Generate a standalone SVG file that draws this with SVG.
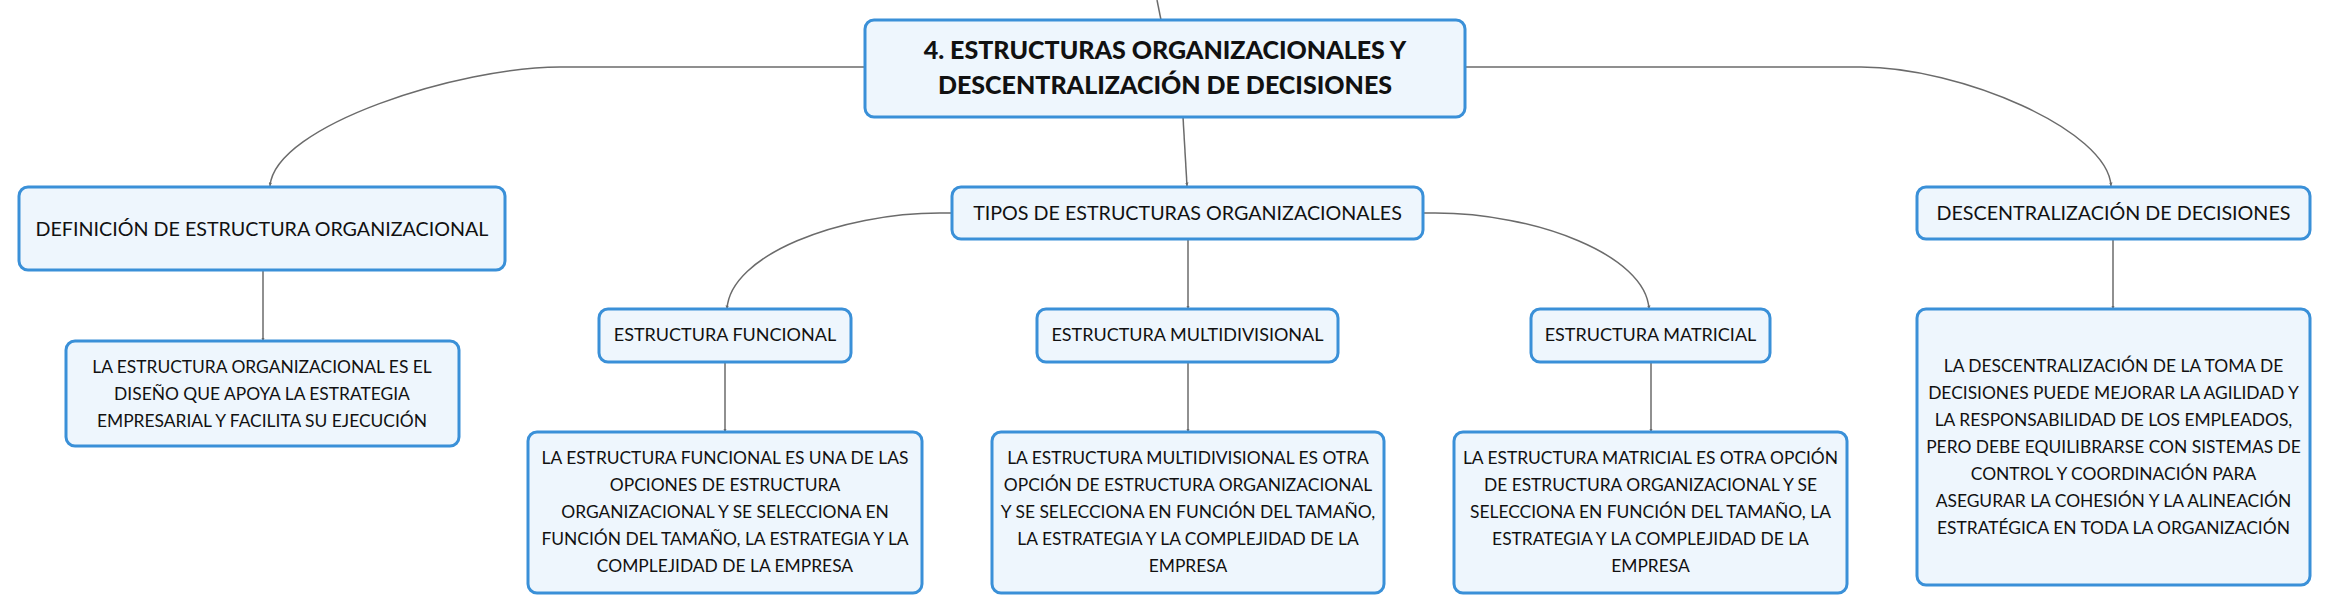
<svg xmlns="http://www.w3.org/2000/svg" width="2330" height="615" viewBox="0 0 2330 615">
<defs>
<style>
.box{fill:#EEF6FD;stroke:#3A90D8;stroke-width:3}
.con{fill:none;stroke:#6b6b6b;stroke-width:1.5}
.t{font-family:Lato,"Open Sans","Noto Sans",sans-serif;fill:#111;text-anchor:middle}
.title{font-size:25px;font-weight:900}
.h1{font-size:19.7px}
.h2{font-size:18px}
.b{font-size:17.4px}
</style>
<marker id="arr" viewBox="0 0 6 6" refX="6" refY="3" markerWidth="3.5" markerHeight="3.5" markerUnits="userSpaceOnUse" orient="auto">
<path d="M0,0 L6,3 L0,6 z" fill="#6b6b6b"/>
</marker>
</defs>
<rect width="2330" height="615" fill="#ffffff"/>

<g id="connectors">
<path class="con" d="M1161 20 L1157 0"/>
<path class="con" d="M865 67 L560 67 C460 67 275 125 270 186" marker-end="url(#arr)"/>
<path class="con" d="M1465 67 L1861 67 C1960 67 2108 130 2111 186" marker-end="url(#arr)"/>
<path class="con" d="M1183 117 L1187 186" marker-end="url(#arr)"/>
<path class="con" d="M952 213 L940 213 C840 213 730 255 727 309" marker-end="url(#arr)"/>
<path class="con" d="M1188 239 L1188 309" marker-end="url(#arr)"/>
<path class="con" d="M1423 213 L1435 213 C1535 213 1646 255 1649 309" marker-end="url(#arr)"/>
<path class="con" d="M263 270 L263 341" marker-end="url(#arr)"/>
<path class="con" d="M2113 239 L2113 309" marker-end="url(#arr)"/>
<path class="con" d="M725 362 L725 432" marker-end="url(#arr)"/>
<path class="con" d="M1188 362 L1188 432" marker-end="url(#arr)"/>
<path class="con" d="M1651 362 L1651 432" marker-end="url(#arr)"/>
</g>

<g id="root">
<rect class="box" x="865" y="20" width="600" height="97" rx="9"/>
<text class="t title" x="1165" y="59">4. ESTRUCTURAS ORGANIZACIONALES Y</text>
<text class="t title" x="1165" y="94">DESCENTRALIZACIÓN DE DECISIONES</text>
</g>

<g id="definicion">
<rect class="box" x="19" y="187" width="486" height="83" rx="9"/>
<text class="t h1" x="262" y="236">DEFINICIÓN DE ESTRUCTURA ORGANIZACIONAL</text>
</g>

<g id="definicion-texto">
<rect class="box" x="66" y="341" width="393" height="105" rx="9"/>
<text class="t b" x="262" y="373">LA ESTRUCTURA ORGANIZACIONAL ES EL</text>
<text class="t b" x="262" y="400">DISEÑO QUE APOYA LA ESTRATEGIA</text>
<text class="t b" x="262" y="427">EMPRESARIAL Y FACILITA SU EJECUCIÓN</text>
</g>

<g id="tipos">
<rect class="box" x="952" y="187" width="471" height="52" rx="9"/>
<text class="t h1" x="1187.5" y="220">TIPOS DE ESTRUCTURAS ORGANIZACIONALES</text>
</g>

<g id="descentralizacion">
<rect class="box" x="1917" y="187" width="393" height="52" rx="9"/>
<text class="t h1" x="2113.5" y="220">DESCENTRALIZACIÓN DE DECISIONES</text>
</g>

<g id="descentralizacion-texto">
<rect class="box" x="1917" y="309" width="393" height="276" rx="9"/>
<text class="t b" x="2113.5" y="372">LA DESCENTRALIZACIÓN DE LA TOMA DE</text>
<text class="t b" x="2113.5" y="399">DECISIONES PUEDE MEJORAR LA AGILIDAD Y</text>
<text class="t b" x="2113.5" y="426">LA RESPONSABILIDAD DE LOS EMPLEADOS,</text>
<text class="t b" x="2113.5" y="453">PERO DEBE EQUILIBRARSE CON SISTEMAS DE</text>
<text class="t b" x="2113.5" y="480">CONTROL Y COORDINACIÓN PARA</text>
<text class="t b" x="2113.5" y="507">ASEGURAR LA COHESIÓN Y LA ALINEACIÓN</text>
<text class="t b" x="2113.5" y="534">ESTRATÉGICA EN TODA LA ORGANIZACIÓN</text>
</g>

<g id="funcional">
<rect class="box" x="599" y="309" width="252" height="53" rx="9"/>
<text class="t h2" x="725" y="341">ESTRUCTURA FUNCIONAL</text>
</g>

<g id="funcional-texto">
<rect class="box" x="528" y="432" width="394" height="161" rx="9"/>
<text class="t b" x="725" y="464">LA ESTRUCTURA FUNCIONAL ES UNA DE LAS</text>
<text class="t b" x="725" y="491">OPCIONES DE ESTRUCTURA</text>
<text class="t b" x="725" y="518">ORGANIZACIONAL Y SE SELECCIONA EN</text>
<text class="t b" x="725" y="545">FUNCIÓN DEL TAMAÑO, LA ESTRATEGIA Y LA</text>
<text class="t b" x="725" y="572">COMPLEJIDAD DE LA EMPRESA</text>
</g>

<g id="multidivisional">
<rect class="box" x="1037" y="309" width="301" height="53" rx="9"/>
<text class="t h2" x="1187.5" y="341">ESTRUCTURA MULTIDIVISIONAL</text>
</g>

<g id="multidivisional-texto">
<rect class="box" x="992" y="432" width="392" height="161" rx="9"/>
<text class="t b" x="1188" y="464">LA ESTRUCTURA MULTIDIVISIONAL ES OTRA</text>
<text class="t b" x="1188" y="491">OPCIÓN DE ESTRUCTURA ORGANIZACIONAL</text>
<text class="t b" x="1188" y="518">Y SE SELECCIONA EN FUNCIÓN DEL TAMAÑO,</text>
<text class="t b" x="1188" y="545">LA ESTRATEGIA Y LA COMPLEJIDAD DE LA</text>
<text class="t b" x="1188" y="572">EMPRESA</text>
</g>

<g id="matricial">
<rect class="box" x="1531" y="309" width="239" height="53" rx="9"/>
<text class="t h2" x="1650.5" y="341">ESTRUCTURA MATRICIAL</text>
</g>

<g id="matricial-texto">
<rect class="box" x="1454" y="432" width="393" height="161" rx="9"/>
<text class="t b" x="1650.5" y="464">LA ESTRUCTURA MATRICIAL ES OTRA OPCIÓN</text>
<text class="t b" x="1650.5" y="491">DE ESTRUCTURA ORGANIZACIONAL Y SE</text>
<text class="t b" x="1650.5" y="518">SELECCIONA EN FUNCIÓN DEL TAMAÑO, LA</text>
<text class="t b" x="1650.5" y="545">ESTRATEGIA Y LA COMPLEJIDAD DE LA</text>
<text class="t b" x="1650.5" y="572">EMPRESA</text>
</g>
</svg>
